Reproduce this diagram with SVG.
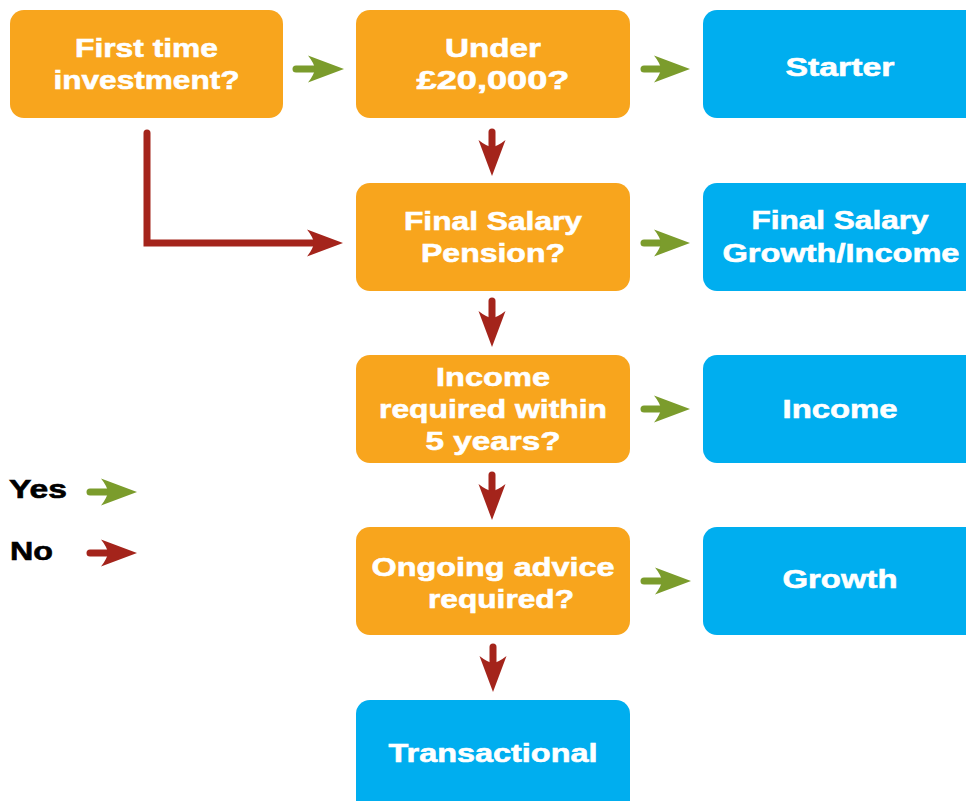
<svg xmlns="http://www.w3.org/2000/svg" width="966" height="801" viewBox="0 0 966 801">
<style>
.q{fill:#f8a51d}
.r{fill:#00aeef}
text{font-family:"Liberation Sans",Arial,sans-serif;font-weight:bold;font-size:26px;fill:#fff;stroke:#fff;stroke-width:0.6;text-anchor:middle}
text.k{fill:#000;stroke:#000;text-anchor:start}
.yes{fill:none;stroke:#7b9c2c;stroke-width:7;stroke-linecap:round;marker-end:url(#hy)}
.no{fill:none;stroke:#a4241b;stroke-width:7;stroke-linecap:round;stroke-linejoin:miter;marker-end:url(#hn)}
</style>
<defs>
<marker id="hy" markerUnits="userSpaceOnUse" viewBox="-37 -14 38 28" refX="-20" refY="0" markerWidth="38" markerHeight="28" orient="auto">
<path d="M0,0 L-36,-13.5 Q-30,-6 -29,0 Q-30,6 -36,13.5 Z" fill="#7b9c2c"/>
</marker>
<marker id="hn" markerUnits="userSpaceOnUse" viewBox="-37 -14 38 28" refX="-20" refY="0" markerWidth="38" markerHeight="28" orient="auto">
<path d="M0,0 L-36,-13.5 Q-30,-6 -29,0 Q-30,6 -36,13.5 Z" fill="#a4241b"/>
</marker>
</defs>
<rect width="966" height="801" fill="#fff"/>

<g id="first-time">
<rect class="q" x="10" y="10" width="273" height="108" rx="14"/>
<text x="146.5" y="57" textLength="143" lengthAdjust="spacingAndGlyphs">First time</text>
<text x="146.5" y="89" textLength="186" lengthAdjust="spacingAndGlyphs">investment?</text>
</g>
<g id="under">
<rect class="q" x="356" y="10" width="274" height="108" rx="14"/>
<text x="493" y="57" textLength="96" lengthAdjust="spacingAndGlyphs">Under</text>
<text x="493" y="89" textLength="153" lengthAdjust="spacingAndGlyphs">£20,000?</text>
</g>
<g id="starter">
<rect class="r" x="703" y="10" width="280" height="108" rx="14"/>
<text x="840" y="76" textLength="109" lengthAdjust="spacingAndGlyphs">Starter</text>
</g>
<g id="final-salary">
<rect class="q" x="356" y="183" width="274" height="108" rx="14"/>
<text x="493" y="230" textLength="178" lengthAdjust="spacingAndGlyphs">Final Salary</text>
<text x="493" y="262" textLength="144" lengthAdjust="spacingAndGlyphs">Pension?</text>
</g>
<g id="fs-growth-income">
<rect class="r" x="703" y="183" width="280" height="108" rx="14"/>
<text x="840" y="229" textLength="177" lengthAdjust="spacingAndGlyphs">Final Salary</text>
<text x="841" y="262" textLength="237" lengthAdjust="spacingAndGlyphs">Growth/Income</text>
</g>
<g id="income-q">
<rect class="q" x="356" y="355" width="274" height="108" rx="14"/>
<text x="493" y="386" textLength="114" lengthAdjust="spacingAndGlyphs">Income</text>
<text x="493" y="418" textLength="228" lengthAdjust="spacingAndGlyphs">required within</text>
<text x="493" y="450" textLength="135" lengthAdjust="spacingAndGlyphs">5 years?</text>
</g>
<g id="income">
<rect class="r" x="703" y="355" width="280" height="108" rx="14"/>
<text x="840" y="418" textLength="115" lengthAdjust="spacingAndGlyphs">Income</text>
</g>
<g id="ongoing">
<rect class="q" x="356" y="527" width="274" height="108" rx="14"/>
<text x="493" y="576" textLength="243" lengthAdjust="spacingAndGlyphs">Ongoing advice</text>
<text x="501" y="608" textLength="146" lengthAdjust="spacingAndGlyphs">required?</text>
</g>
<g id="growth">
<rect class="r" x="703" y="527" width="280" height="108" rx="14"/>
<text x="840" y="588" textLength="115" lengthAdjust="spacingAndGlyphs">Growth</text>
</g>
<g id="transactional">
<rect class="r" x="356" y="700" width="274" height="120" rx="14"/>
<text x="493" y="762" textLength="209" lengthAdjust="spacingAndGlyphs">Transactional</text>
</g>
<g id="legend">
<text class="k" x="9" y="498" textLength="58" lengthAdjust="spacingAndGlyphs">Yes</text>
<text class="k" x="10" y="560" textLength="43" lengthAdjust="spacingAndGlyphs">No</text>
</g>

<g id="connectors">
<path class="yes" d="M296,69 H324"/>
<path class="yes" d="M644,69 H670"/>
<path class="yes" d="M644,243 H670"/>
<path class="yes" d="M644,409 H670"/>
<path class="yes" d="M644,581 H671"/>
<path class="no" d="M147,133 V243 H323"/>
<path class="no" d="M492,132 V156"/>
<path class="no" d="M492,301 V327"/>
<path class="no" d="M492,475 V500"/>
<path class="no" d="M493,647 V672"/>
<path class="yes" d="M90,492 H117"/>
<path class="no" d="M90,553 H117"/>
</g>
</svg>
